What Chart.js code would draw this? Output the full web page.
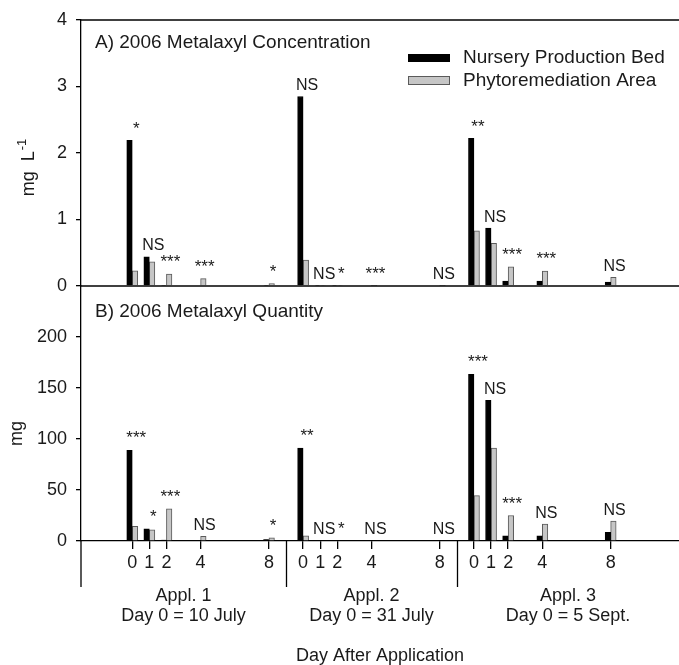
<!DOCTYPE html>
<html>
<head>
<meta charset="utf-8">
<script src="https://cdn.jsdelivr.net/npm/chart.js@4.4.1/dist/chart.umd.min.js"></script>
<style>
    html, body { margin: 0; padding: 0; background: #fff; }
    #wrap { position: relative; width: 679px; height: 665px; }
    #wrap canvas { position: absolute; left: 0; top: 0; }
</style>
</head>
<body>
<div id="wrap">
    <canvas id="concChart" width="679" height="665"></canvas>
    <canvas id="qtyChart" width="679" height="665"></canvas>
</div>
<script>
// sampling days after each application, and where each application starts on the axis
const dayLabels = ['0', '1', '2', '4', '8', '0', '1', '2', '4', '8', '0', '1', '2', '4', '8'];
const xPositions = [0, 1, 2, 4, 8, 10, 11, 12, 14, 18, 20, 21, 22, 24, 28];
const applDividers = [9, 19];
const applNames = ['Appl. 1', 'Appl. 2', 'Appl. 3'];
const applDates = ['Day 0 = 10 July', 'Day 0 = 31 July', 'Day 0 = 5 Sept.'];

// A) concentration, mg L-1
const concNursery = [2.19, 0.44, 0.01, 0, 0.01, 2.85, 0.01, 0.01, 0, 0, 2.22, 0.87, 0.075, 0.075, 0.06];
const concPhyto = [0.23, 0.365, 0.18, 0.11, 0.035, 0.39, 0.01, 0.01, 0.005, 0.005, 0.83, 0.64, 0.29, 0.225, 0.13];
const concSig = ['*', 'NS', '***', '***', '*', 'NS', 'NS', '*', '***', 'NS', '**', 'NS', '***', '***', 'NS'];
const concTicks = [0, 1, 2, 3, 4];

// B) quantity, mg
const qtyNursery = [89, 12, 1, 0, 1.5, 91, 0, 0, 0, 0, 163.5, 138, 5, 5, 8.5];
const qtyPhyto = [14.5, 11, 31.5, 4.5, 3, 5, 0, 0, 0, 0, 44.5, 91, 25, 16.5, 19.5];
const qtySig = ['***', '*', '***', 'NS', '*', '**', 'NS', '*', 'NS', 'NS', '***', 'NS', '***', 'NS', 'NS'];
const qtyTicks = [0, 50, 100, 150, 200];

const seriesNames = ['Nursery Production Bed', 'Phytoremediation Area'];
const FONT = '"Liberation Sans", Arial, sans-serif';
const INK = '#1a1a1a';
const GRAY = '#c6c6c6';

const makeDatasets = (nursery, phyto) => [{
    label: seriesNames[0],
    data: xPositions.map((x, i) => ({ x: x, y: nursery[i] })),
    backgroundColor: '#000',
    borderColor: '#000',
    borderWidth: 1
}, {
    label: seriesNames[1],
    data: xPositions.map((x, i) => ({ x: x, y: phyto[i] })),
    backgroundColor: GRAY,
    borderColor: '#5a5a5a',
    borderWidth: 1
}];

// NS / asterisk labels above each pair of bars
const sigPlugin = (labels) => ({
    id: 'sigLabels',
    afterDatasetsDraw(chart) {
        const ctx = chart.ctx;
        const a = chart.getDatasetMeta(0).data;
        const b = chart.getDatasetMeta(1).data;
        ctx.save();
        ctx.fillStyle = INK;
        ctx.textAlign = 'center';
        ctx.textBaseline = 'bottom';
        labels.forEach((txt, i) => {
            const cx = (a[i].x + b[i].x) / 2 + 4;
            const top = Math.min(a[i].y, b[i].y);
            ctx.font = (txt === 'NS' ? '16px ' : '17px ') + FONT;
            ctx.fillText(txt, cx, top - 3);
        });
        ctx.restore();
    }
});

const hLine = (ctx, x1, x2, y) => {
    ctx.beginPath();
    ctx.moveTo(x1, y);
    ctx.lineTo(x2, y);
    ctx.stroke();
};

const vLine = (ctx, x, y1, y2) => {
    ctx.beginPath();
    ctx.moveTo(x, y1);
    ctx.lineTo(x, y2);
    ctx.stroke();
};

const concDecor = {
    id: 'concDecor',
    afterDraw(chart) {
        const ctx = chart.ctx;
        const area = chart.chartArea;
        ctx.save();
        ctx.strokeStyle = '#000';
        ctx.lineWidth = 1.3;
        hLine(ctx, area.left, area.right, area.top);
        hLine(ctx, area.left, area.right, area.bottom);

        ctx.fillStyle = INK;
        ctx.font = '19px ' + FONT;
        ctx.textAlign = 'left';
        ctx.textBaseline = 'alphabetic';
        ctx.fillText('A) 2006 Metalaxyl Concentration', area.left + 14, area.top + 28);

        // legend
        const lx = area.right - 271;
        const ly = area.top + 34;
        ctx.fillStyle = '#000';
        ctx.fillRect(lx, ly, 42, 8);
        ctx.fillStyle = GRAY;
        ctx.fillRect(lx, ly + 22, 42, 9);
        ctx.strokeStyle = '#5a5a5a';
        ctx.lineWidth = 1;
        ctx.strokeRect(lx + 0.5, ly + 22.5, 41, 8);
        ctx.fillStyle = INK;
        ctx.font = '19px ' + FONT;
        ctx.textBaseline = 'middle';
        ctx.fillText(seriesNames[0], lx + 55, ly + 4);
        ctx.fillText(seriesNames[1], lx + 55, ly + 27);

        // y title with superscript
        ctx.translate(34, (area.top + area.bottom) / 2 + 15);
        ctx.rotate(-Math.PI / 2);
        ctx.textBaseline = 'alphabetic';
        ctx.font = '18px ' + FONT;
        const main = 'mg  L';
        const wMain = ctx.measureText(main).width;
        ctx.font = '13px ' + FONT;
        const wSup = ctx.measureText('-1').width;
        const start = -(wMain + wSup) / 2;
        ctx.font = '18px ' + FONT;
        ctx.fillText(main, start, 0);
        ctx.font = '13px ' + FONT;
        ctx.fillText('-1', start + wMain + 1, -8);
        ctx.restore();
    }
};

const qtyDecor = {
    id: 'qtyDecor',
    afterDraw(chart) {
        const ctx = chart.ctx;
        const area = chart.chartArea;
        const xs = chart.scales.x;
        ctx.save();
        ctx.strokeStyle = '#000';
        ctx.lineWidth = 1.3;
        // axis line and application dividers continue below the ticks
        vLine(ctx, area.left, area.bottom, area.bottom + 46);
        applDividers.forEach(d => {
            const px = Math.round(xs.getPixelForValue(d)) + 0.5;
            vLine(ctx, px, area.bottom, area.bottom + 46);
        });

        ctx.fillStyle = INK;
        ctx.font = '19px ' + FONT;
        ctx.textAlign = 'left';
        ctx.textBaseline = 'alphabetic';
        ctx.fillText('B) 2006 Metalaxyl Quantity', area.left + 14, area.top + 31);

        ctx.font = '18px ' + FONT;
        const bounds = [xs.min].concat(applDividers, [xs.max]);
        ctx.textAlign = 'center';
        applNames.forEach((name, i) => {
            const cx = (xs.getPixelForValue(bounds[i]) + xs.getPixelForValue(bounds[i + 1])) / 2;
            ctx.fillText(name, cx, area.bottom + 60);
            ctx.fillText(applDates[i], cx, area.bottom + 80);
        });
        ctx.fillText('Day After Application', (area.left + area.right) / 2, area.bottom + 120);

        ctx.translate(22, (area.top + area.bottom) / 2 + 20);
        ctx.rotate(-Math.PI / 2);
        ctx.fillText('mg', 0, 0);
        ctx.restore();
    }
};

const yScale = (min, max, ticks) => ({
    min: min,
    max: max,
    afterBuildTicks: (s) => { s.ticks = ticks.map(v => ({ value: v })); },
    afterFit: (s) => { s.width = 81; },
    ticks: { color: INK, font: { family: FONT, size: 18 }, padding: 9 },
    grid: { drawOnChartArea: false, drawTicks: true, tickLength: 5, color: '#000', lineWidth: 1.3 },
    border: { color: '#000', width: 1.3 }
});

const baseOptions = {
    responsive: false,
    animation: false,
    events: [],
    datasets: { bar: { barThickness: 5.5, grouped: true } },
    plugins: { legend: { display: false }, tooltip: { enabled: false } }
};

new Chart(document.getElementById('concChart'), {
    type: 'bar',
    data: { datasets: makeDatasets(concNursery, concPhyto) },
    options: Object.assign({}, baseOptions, {
        layout: { padding: { top: 20, bottom: 379, left: 0, right: 0 } },
        scales: {
            x: { type: 'linear', min: -3, max: 32, offset: false, display: false, grid: { offset: false } },
            y: yScale(0, 4, concTicks)
        }
    }),
    plugins: [sigPlugin(concSig), concDecor]
});

new Chart(document.getElementById('qtyChart'), {
    type: 'bar',
    data: { datasets: makeDatasets(qtyNursery, qtyPhyto) },
    options: Object.assign({}, baseOptions, {
        layout: { padding: { top: 286, bottom: 74, left: 0, right: 0 } },
        scales: {
            x: {
                type: 'linear', min: -3, max: 32, offset: false,
                afterBuildTicks: (s) => { s.ticks = xPositions.map(v => ({ value: v })); },
                afterFit: (s) => { s.height = 50; },
                ticks: {
                    color: INK, font: { family: FONT, size: 18 }, padding: 3, maxRotation: 0, autoSkip: false,
                    callback: (v) => dayLabels[xPositions.indexOf(v)]
                },
                grid: { offset: false, drawOnChartArea: false, drawTicks: true, tickLength: 8, color: '#000', lineWidth: 1.3 },
                border: { color: '#000', width: 1.3 }
            },
            y: yScale(0, 250, qtyTicks)
        }
    }),
    plugins: [sigPlugin(qtySig), qtyDecor]
});
</script>
</body>
</html>
